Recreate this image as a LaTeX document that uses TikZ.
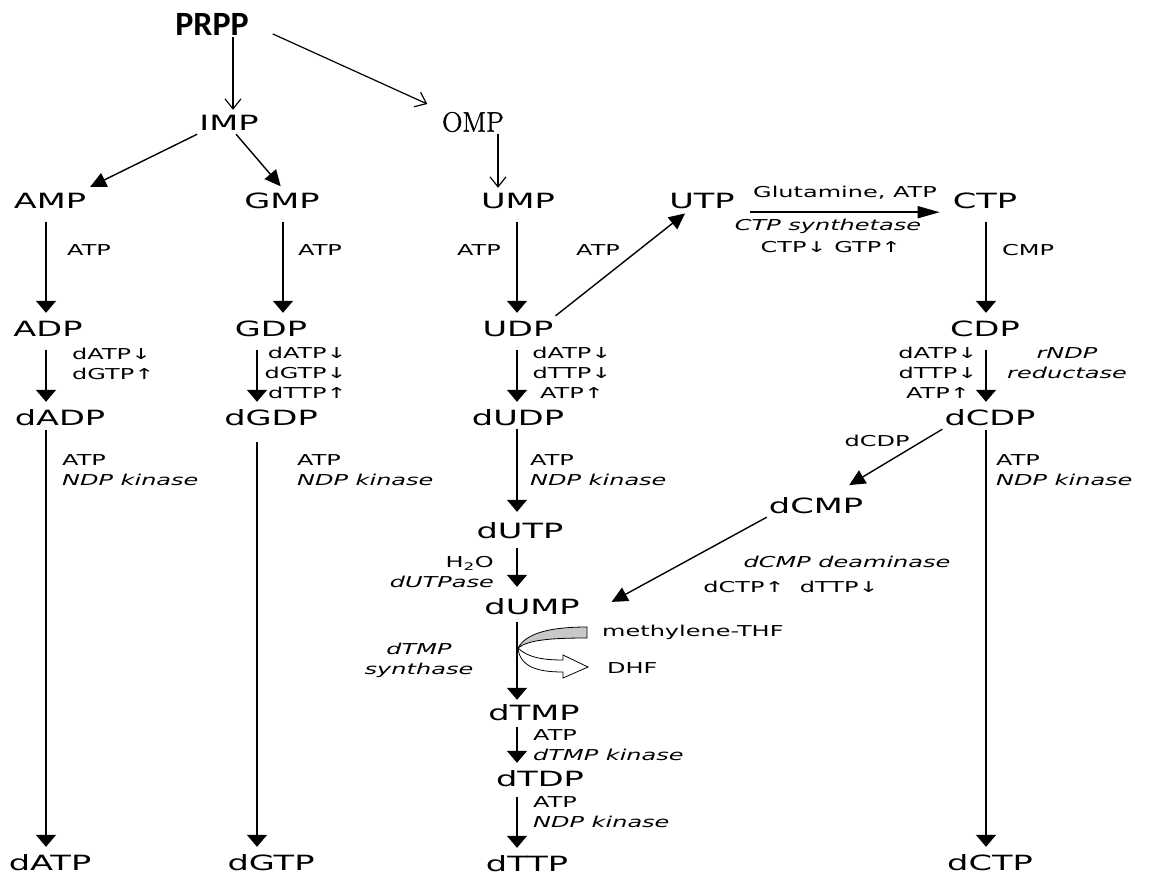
\documentclass[tikz,border=0pt]{standalone}
\usepackage{fontspec}
\usepackage{tikz}
\usetikzlibrary{arrows.meta}
\newfontfamily\nucfont{DejaVu Sans}[FakeStretch=1.6, ItalicFont={DejaVu Sans Oblique}]
\newfontfamily\prppfont{Carlito}[BoldFont={Carlito Bold}]
\newfontfamily\ompfont{Latin Modern Roman}[FakeBold=1.5]
\definecolor{bandGray}{HTML}{C8C8C8}

\begin{document}
\begin{tikzpicture}[x=1pt, y=-1pt,
  mol/.style={font=\nucfont\fontsize{21}{24}\selectfont, inner xsep=2pt, inner ysep=4pt,
              text height=16pt, text depth=0pt},
  lab/.style={font=\nucfont\fontsize{15}{20}\selectfont, inner sep=0pt, align=left},
  enz/.style={lab, font=\nucfont\fontsize{15}{20}\selectfont\itshape},
  flow/.style={line width=1.6pt, -{Triangle[length=12pt,width=20pt]},
               shorten <=3pt, shorten >=3pt},
  hflow/.style={line width=1.6pt, -{Triangle[length=22pt,width=12pt]}},
  dflow/.style={line width=1.4pt, -{Triangle[length=16pt,width=15pt]}, shorten >=2pt},
  open/.style={line width=1.2pt, -{Straight Barb[length=10pt,width=16pt]}}]
  \useasboundingbox (0,0) rectangle (1149,879);

  \coordinate (cA) at (46,0);
  \coordinate (cG1) at (283,0);
  \coordinate (cG) at (257,0);
  \coordinate (cU) at (517,0);
  \coordinate (cC) at (986,0);
  \coordinate (cO) at (498,0);
  \coordinate (cP) at (233,0);

  \node[font=\prppfont\bfseries\fontsize{34}{40}\selectfont, inner sep=2pt] (PRPP) at (212,24) {PRPP};
  \node[mol] (IMP) at (229,122) {IMP};
  \node[font=\ompfont\fontsize{28}{32}\selectfont, inner sep=2pt] (OMP) at (473,122) {OMP};

  \node[mol] (AMP) at (50,200) {AMP};
  \node[mol] (GMP) at (282,200) {GMP};
  \node[mol] (UMP) at (518,200) {UMP};
  \node[mol] (UTP) at (702,200) {UTP};
  \node[mol] (CTP) at (985,200) {CTP};
  \node[mol] (ADP) at (48,328) {ADP};
  \node[mol] (GDP) at (271,328) {GDP};
  \node[mol] (UDP) at (518,328) {UDP};
  \node[mol] (CDP) at (985,328) {CDP};
  \node[mol] (dADP) at (60,417) {dADP};
  \node[mol] (dGDP) at (271,417) {dGDP};
  \node[mol] (dUDP) at (518,417) {dUDP};
  \node[mol] (dCDP) at (990,417) {dCDP};
  \node[mol] (dCMP) at (816,505) {dCMP};
  \node[mol] (dUTP) at (520,530) {dUTP};
  \node[mol] (dUMP) at (532,606) {dUMP};
  \node[mol] (dTMP) at (534,712) {dTMP};
  \node[mol] (dTDP) at (540,778) {dTDP};
  \node[mol] (dATP) at (50,862) {dATP};
  \node[mol] (dGTP) at (271,862) {dGTP};
  \node[mol] (dTTP) at (527,863) {dTTP};
  \node[mol] (dCTP) at (990,862) {dCTP};

  \node[lab, anchor=west] (atpA) at (67,250) {ATP};
  \node[lab, anchor=west] (atpG) at (298,250) {ATP};
  \node[lab, anchor=east] (atpU) at (501,250) {ATP};
  \node[lab, anchor=west] (atpUt) at (576,250) {ATP};
  \node[lab, anchor=west] (cmpC) at (1002,250) {CMP};
  \node[lab] (glu) at (845,193) {Glutamine, ATP};
  \node[enz] (ctps) at (828,226) {CTP synthetase};
  \node[lab] (ctpreg) at (831,247) {CTP↓ GTP↑};

  \node[lab, anchor=west] (regA) at (72,364) {dATP↓\\dGTP↑};
  \node[lab, align=right, anchor=east] (regG) at (347,373) {dATP↓\\dGTP↓\\dTTP↑};
  \node[lab, align=center] (regU) at (572,373) {dATP↓\\dTTP↓\\ATP↑};
  \node[lab, align=center] (regC) at (938,373) {dATP↓\\dTTP↓\\ATP↑};
  \node[enz, align=center] (rnr) at (1067,363) {rNDP\\reductase};

  \node[lab, anchor=west] (ndkA) at (62,470) {ATP\\\textit{NDP kinase}};
  \node[lab, anchor=west] (ndkG) at (297,470) {ATP\\\textit{NDP kinase}};
  \node[lab, anchor=west] (ndkU) at (530,470) {ATP\\\textit{NDP kinase}};
  \node[lab, anchor=west] (ndkC) at (996,470) {ATP\\\textit{NDP kinase}};

  \node[lab] (cdpl) at (877,441) {dCDP};
  \node[enz] (dcd) at (847,562) {dCMP deaminase};
  \node[lab] (dcdreg) at (791,587) {dCTP↑\ \ dTTP↓};
  \node[lab, align=right, anchor=east] (dut) at (494,572) {H\textsubscript{2}O\hspace{6pt}\\\textit{dUTPase}};
  \node[enz, align=center] (tyms) at (419,660) {dTMP\\synthase};
  \node[lab, anchor=west] (mthf) at (602,632) {methylene-THF};
  \node[lab, anchor=west] (dhf) at (607,668) {DHF};
  \node[lab, anchor=west] (tmk) at (533,745) {ATP\\\textit{dTMP kinase}};
  \node[lab, anchor=west] (ndkT) at (533,812) {ATP\\\textit{NDP kinase}};

  \draw[open] (PRPP.south -| cP) -- (IMP.north -| cP);
  \draw[open, shorten <=24pt, shorten >=14pt] (PRPP.east) -- (OMP.north west);
  \draw[open] (OMP.south -| cO) -- (UMP.north -| cO);
  \draw[dflow] (IMP.south west) -- (AMP.north east);
  \draw[dflow] (IMP.-60) -- (GMP.north);

  \draw[flow, shorten <=10pt] (AMP.south -| cA) -- (ADP.north -| cA);
  \draw[flow, shorten <=10pt] (GMP.south -| cG1) -- (GDP.north -| cG1);
  \draw[flow, shorten <=10pt] (UMP.south -| cU) -- (UDP.north -| cU);
  \draw[flow, shorten <=10pt] (CTP.south -| cC) -- (CDP.north -| cC);
  \draw[hflow, shorten <=13pt, shorten >=11pt] (UTP.south east) -- (CTP.south west);
  \draw[dflow] (UDP.north east) -- (UTP);

  \draw[flow, shorten <=10pt] (ADP.south -| cA) -- (dADP.north -| cA);
  \draw[flow, shorten <=10pt] (GDP.south -| cG) -- (dGDP.north -| cG);
  \draw[flow, shorten <=10pt] (UDP.south -| cU) -- (dUDP.north -| cU);
  \draw[flow, shorten <=10pt] (CDP.south -| cC) -- (dCDP.north -| cC);

  \draw[flow, shorten <=1pt] (dADP.south -| cA) -- (dATP.north -| cA);
  \draw[flow, shorten <=13pt] (dGDP.south -| cG) -- (dGTP.north -| cG);
  \draw[flow, shorten <=1pt] (dCDP.south -| cC) -- (dCTP.north -| cC);
  \draw[flow, shorten <=0pt, shorten >=6pt] (dUDP.south -| cU) -- (dUTP.north -| cU);
  \draw[flow, shorten <=6pt, shorten >=7pt] (dUTP.south -| cU) -- (dUMP.north -| cU);

  \draw[dflow, shorten >=15pt] (dCDP.south west) -- (dCMP);
  \draw[dflow, shorten >=34pt] (dCMP.south west) -- (dUMP.south east);

  \filldraw[fill=bandGray, draw=black, line width=0.8pt]
    (587,627) -- (587,638) .. controls (550,638) and (528,640) .. (518,648)
    .. controls (525,635) and (545,627) .. cycle;
  \filldraw[fill=white, draw=black, line width=0.8pt]
    (518,648) .. controls (528,658) and (545,660) .. (563,660) -- (563,655)
    -- (588,667) -- (563,678) -- (563,672)
    .. controls (540,672) and (520,668) .. (518,648);
  \draw[flow, shorten <=4pt, shorten >=0pt] (dUMP.south -| cU) -- (dTMP.north -| cU);

  \draw[flow] (dTMP.south -| cU) -- (dTDP.north -| cU);
  \draw[flow, shorten <=7pt] (dTDP.south -| cU) -- (dTTP.north -| cU);
\end{tikzpicture}
\end{document}
